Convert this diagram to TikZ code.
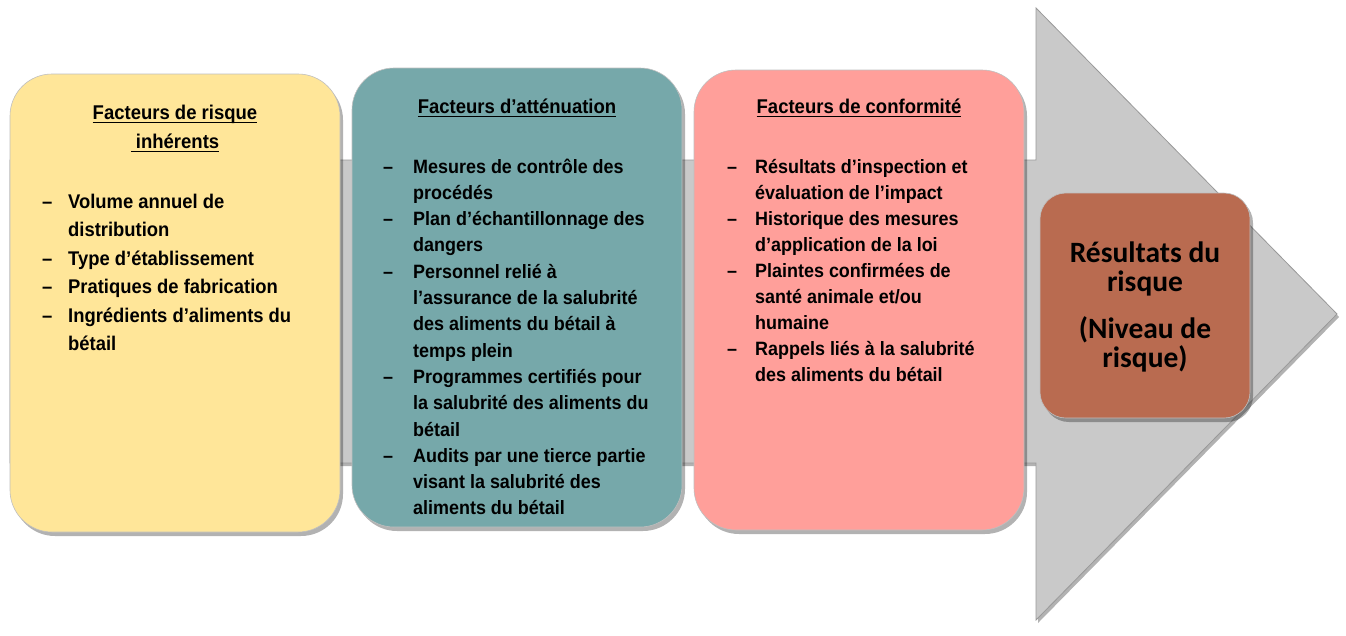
\documentclass[tikz,border=0pt]{standalone}
\usepackage{fontspec}
\setmainfont{Liberation Sans}[FakeStretch=0.93]
\newfontfamily\carl{Carlito}
\usetikzlibrary{shadows}
\definecolor{ylw}{HTML}{FFE699}
\definecolor{tealbox}{HTML}{76A8AA}
\definecolor{pnk}{HTML}{FF9F9A}
\definecolor{gry}{HTML}{C9C9C9}
\definecolor{brn}{HTML}{B96B50}
\newcommand\myul[1]{\leavevmode\setbox0\hbox{#1}\rlap{\rule[-4pt]{\wd0}{1.4pt}}\box0}
\newcommand\dashit[1]{\leavevmode\makebox[#1][l]{–}}
\newcommand\contl[1]{\leavevmode\hspace*{#1}}
\tikzset{
  box/.style={rounded corners=#1, draw=black!25, line width=0.6pt, inner sep=0pt,
    drop shadow={shadow xshift=3pt, shadow yshift=-4pt, opacity=0.3, fill=black}},
  txt/.style={inner sep=0pt, text=black},
  bigarrow/.style={fill=gry, draw=black!40, line width=0.8pt,
    drop shadow={shadow xshift=2pt, shadow yshift=-3pt, opacity=0.3, fill=black}}
}
\begin{document}
\begin{tikzpicture}[x=1pt,y=-1pt]
\useasboundingbox (0,0) rectangle (1346,635);
\fill[white] (0,0) rectangle (1346,635);
% big arrow
\path[bigarrow] (10,160) -- (1036,160) -- (1036,8) -- (1337,314) -- (1036,620) -- (1036,463) -- (10,463) -- cycle;
% boxes
\node[box=42pt, fill=ylw, minimum width=330pt, minimum height=458pt] (inh) at (175,303) {};
\node[box=42pt, fill=tealbox, minimum width=330pt, minimum height=459pt] (att) at (517,297.5) {};
\node[box=42pt, fill=pnk, minimum width=330pt, minimum height=460pt] (conf) at (859,300) {};
\node[box=26pt, fill=brn, minimum width=210pt, minimum height=225pt] (res) at (1145,305.5) {};
% titles
\node[txt, anchor=base] (inhT) at (175,119) {\parbox[t]{300pt}{\centering\fontsize{19.9}{29}\selectfont\bfseries
  \myul{Facteurs de risque}\\\myul{\ inhérents}}};
\node[txt, anchor=base] (attT) at (517,113) {\fontsize{19.9}{29}\selectfont\bfseries\myul{Facteurs d’atténuation}};
\node[txt, anchor=base] (confT) at (859,113) {\fontsize{19.9}{29}\selectfont\bfseries\myul{Facteurs de conformité}};
% lists
\node[txt, anchor=base west] (inhL) at (42,208) {\parbox[t]{300pt}{\raggedright\fontsize{19.8}{28.5}\selectfont\bfseries
  \dashit{26pt}Volume annuel de\\
  \contl{26pt}distribution\\
  \dashit{26pt}Type d’établissement\\
  \dashit{26pt}Pratiques de fabrication\\
  \dashit{26pt}Ingrédients d’aliments du\\
  \contl{26pt}bétail}};
\node[txt, anchor=base west] (attL) at (383,173) {\parbox[t]{300pt}{\raggedright\fontsize{19.3}{26.3}\selectfont\bfseries
  \dashit{30pt}Mesures de contrôle des\\
  \contl{30pt}procédés\\
  \dashit{30pt}Plan d’échantillonnage des\\
  \contl{30pt}dangers\\
  \dashit{30pt}Personnel relié à\\
  \contl{30pt}l’assurance de la salubrité\\
  \contl{30pt}des aliments du bétail à\\
  \contl{30pt}temps plein\\
  \dashit{30pt}Programmes certifiés pour\\
  \contl{30pt}la salubrité des aliments du\\
  \contl{30pt}bétail\\
  \dashit{30pt}Audits par une tierce partie\\
  \contl{30pt}visant la salubrité des\\
  \contl{30pt}aliments du bétail}};
\node[txt, anchor=base west] (confL) at (727,173) {\parbox[t]{300pt}{\raggedright\fontsize{19.3}{26.1}\selectfont\bfseries
  \dashit{28pt}Résultats d’inspection et\\
  \contl{28pt}évaluation de l’impact\\
  \dashit{28pt}Historique des mesures\\
  \contl{28pt}d’application de la loi\\
  \dashit{28pt}Plaintes confirmées de\\
  \contl{28pt}santé animale et/ou\\
  \contl{28pt}humaine\\
  \dashit{28pt}Rappels liés à la salubrité\\
  \contl{28pt}des aliments du bétail}};
% result
\node[txt, anchor=base] (resT) at (1145,262) {\parbox[t]{200pt}{\centering\carl\fontsize{29.5}{29}\selectfont\bfseries
  Résultats du\\risque\\[18pt](Niveau de\\risque)}};
\end{tikzpicture}
\end{document}
